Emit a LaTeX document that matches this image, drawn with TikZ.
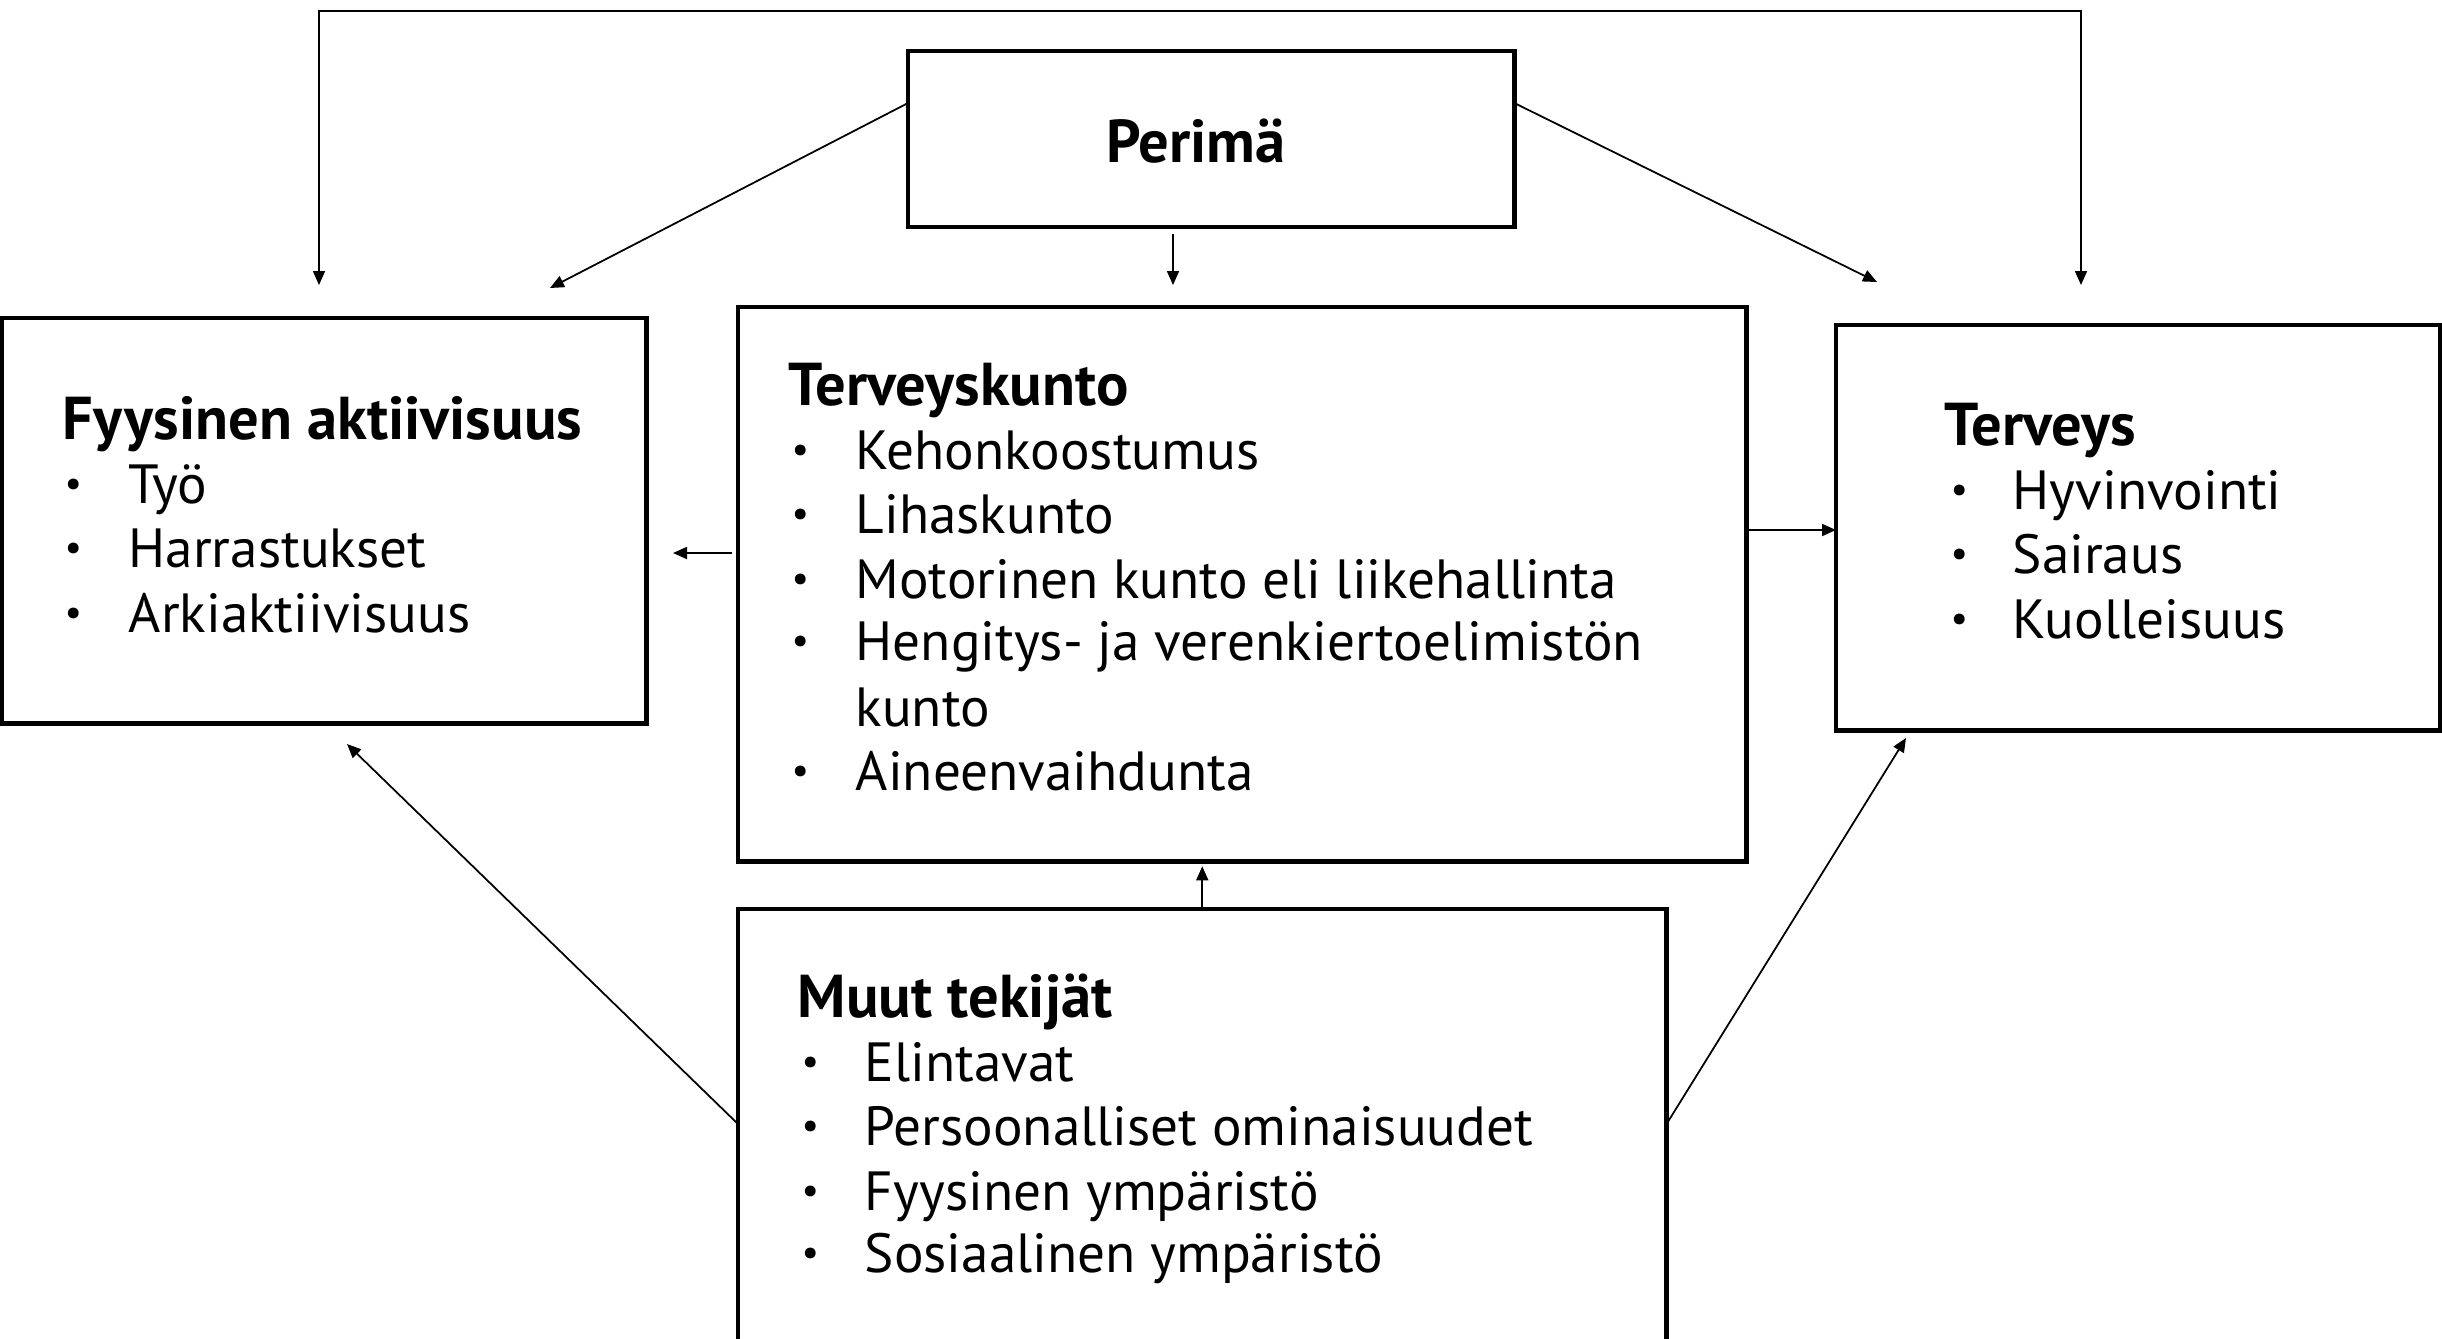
\documentclass[tikz,border=0pt]{standalone}
\usepackage{fontspec}
\setmainfont{PT Sans}
\usetikzlibrary{arrows.meta}
\newcommand{\bul}{\raisebox{0.12em}{\fontsize{11}{13}\selectfont •}}
\begin{document}
\begin{tikzpicture}[x=0.01cm,y=-0.01cm,
  box/.style={draw,line width=1.3pt,inner sep=0pt,outer sep=0pt,anchor=north west},
  conn/.style={line width=0.5pt,-{Triangle[length=1.4mm,width=1.2mm]}},
  ttl/.style={anchor=base west,inner sep=0pt,font=\bfseries\fontsize{17.2}{20}\selectfont},
  itm/.style={anchor=base west,inner sep=0pt,font=\fontsize{15.7}{19}\selectfont}]
\useasboundingbox[fill=white] (0,0) rectangle (2442,1338);
% boxes
\node[box,minimum width=6.06cm,minimum height=1.76cm] (perima) at (908,51) {};
\node[box,minimum width=6.44cm,minimum height=4.05cm] (fyys) at (2,318) {};
\node[box,minimum width=10.08cm,minimum height=5.54cm] (tkunto) at (738,307) {};
\node[box,minimum width=6.04cm,minimum height=4.05cm] (terveys) at (1836,325) {};
\node[box,minimum width=9.28cm,minimum height=4.6cm] (muut) at (738,909) {};
% texts
\node[ttl,anchor=base] (tp) at (1196,162) {Perimä};
\node[ttl] (tf) at (62,439) {Fyysinen aktiivisuus};
\node[itm] (f1b) at (64,503) {\bul}; \node[itm] (f1) at (128,503) {Työ};
\node[itm] (f2b) at (64,567) {\bul}; \node[itm] (f2) at (128,567) {Harrastukset};
\node[itm] (f3b) at (64,632) {\bul}; \node[itm] (f3) at (128,632) {Arkiaktiivisuus};
\node[ttl] (tt) at (788,405) {Terveyskunto};
\node[itm] (t1b) at (791,469) {\bul}; \node[itm] (t1) at (855,469) {Kehonkoostumus};
\node[itm] (t2b) at (791,533) {\bul}; \node[itm] (t2) at (855,533) {Lihaskunto};
\node[itm] (t3b) at (791,598) {\bul}; \node[itm] (t3) at (855,598) {Motorinen kunto eli liikehallinta};
\node[itm] (t4b) at (791,660) {\bul}; \node[itm] (t4) at (855,660) {Hengitys- ja verenkiertoelimistön};
\node[itm] (t5) at (855,726) {kunto};
\node[itm] (t6b) at (791,790) {\bul}; \node[itm] (t6) at (855,790) {Aineenvaihdunta};
\node[ttl] (th) at (1944,445) {Terveys};
\node[itm] (h1b) at (1950,509) {\bul}; \node[itm] (h1) at (2012,509) {Hyvinvointi};
\node[itm] (h2b) at (1950,573) {\bul}; \node[itm] (h2) at (2012,573) {Sairaus};
\node[itm] (h3b) at (1950,638) {\bul}; \node[itm] (h3) at (2012,638) {Kuolleisuus};
\node[ttl] (tm) at (797,1017) {Muut tekijät};
\node[itm] (m1b) at (801,1081) {\bul}; \node[itm] (m1) at (864,1081) {Elintavat};
\node[itm] (m2b) at (801,1145) {\bul}; \node[itm] (m2) at (864,1145) {Persoonalliset ominaisuudet};
\node[itm] (m3b) at (801,1210) {\bul}; \node[itm] (m3) at (864,1210) {Fyysinen ympäristö};
\node[itm] (m4b) at (801,1272) {\bul}; \node[itm] (m4) at (864,1272) {Sosiaalinen ympäristö};
% free ends
\coordinate (tl) at (319,285);
\coordinate (tr) at (2081,285);
\coordinate (topy) at (0,11);
\coordinate (a1) at (550,288);
\coordinate (pb) at (1173,285);
\coordinate (a3) at (1877,282);
\coordinate (a4) at (673,553);
\coordinate (a5) at (0,530);
\coordinate (a7) at (0,1124);
\coordinate (a8) at (347,744);
\coordinate (a9) at (1906,738);
% connectors
\draw[conn,{Triangle[length=1.4mm,width=1.2mm]}-{Triangle[length=1.4mm,width=1.2mm]}] (tl) -- (tl|-topy) -- (tr|-topy) -- (tr);
\draw[conn] ([yshift=0.36cm]perima.west) -- (a1);
\draw[conn] ([yshift=-0.07cm]perima.south -| pb) -- (pb);
\draw[conn] ([yshift=0.36cm]perima.east) -- (a3);
\draw[conn] ([xshift=-0.06cm]tkunto.west |- a4) -- (a4);
\draw[conn] (tkunto.east |- a5) -- (terveys.west |- a5);
\draw[conn,shorten >=0.05cm] (muut.north) -- (tkunto.south -| muut.north);
\draw[conn] (muut.west |- a7) -- (a8);
\draw[conn] (muut.east |- a7) -- (a9);
\end{tikzpicture}
\end{document}
